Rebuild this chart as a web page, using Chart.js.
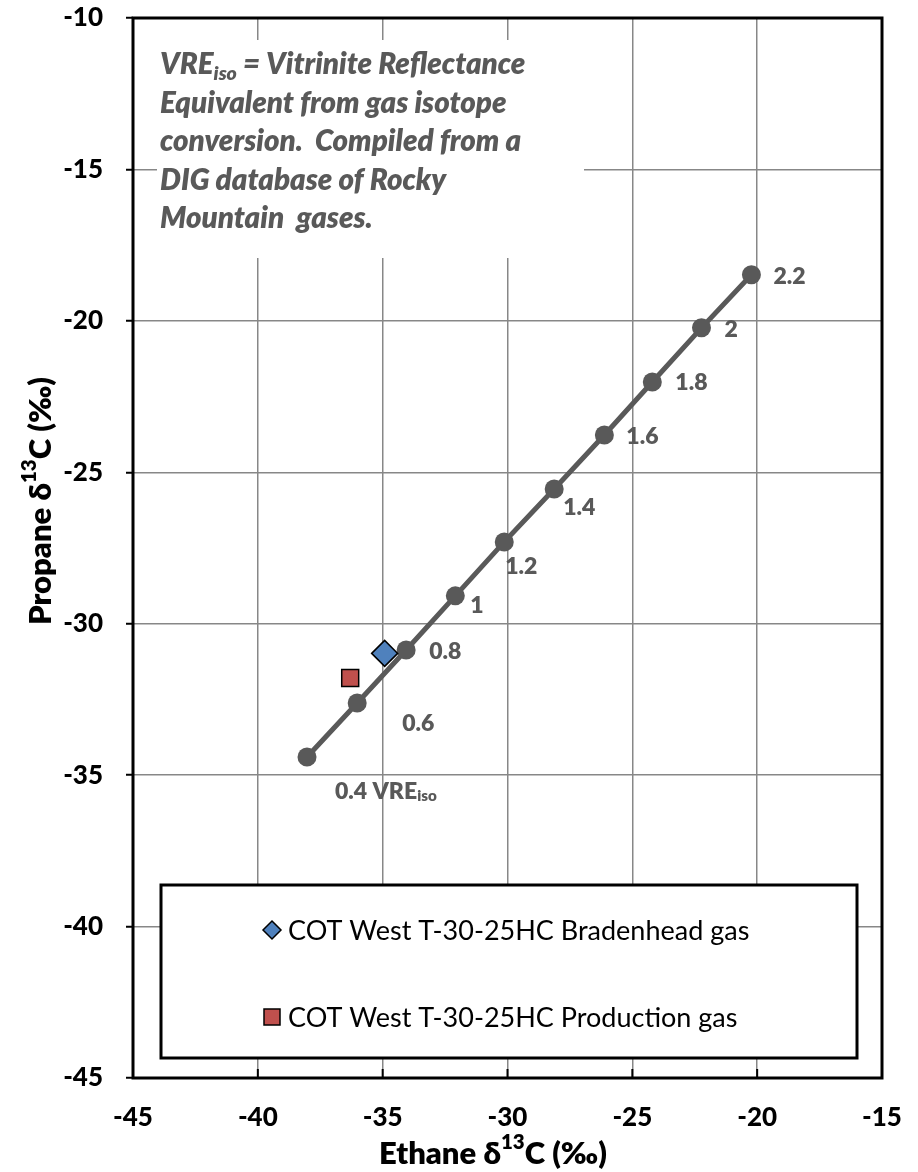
<!DOCTYPE html>
<html>
<head>
<meta charset="utf-8">
<script src="https://cdn.jsdelivr.net/npm/chart.js@4.4.1/dist/chart.umd.min.js"></script>
<style>
  html, body { margin: 0; padding: 0; background: #fff; }
</style>
</head>
<body>
<canvas id="chart" width="918" height="1172"></canvas>
<script>
// VRE_iso conversion line (ethane vs propane d13C)
const vreLabels = ["0.4", "0.6", "0.8", "1", "1.2", "1.4", "1.6", "1.8", "2", "2.2"]
const vreEthane = [-38.03, -36.02, -34.06, -32.09, -30.13, -28.13, -26.12, -24.2, -22.23, -20.23]
const vrePropane = [-34.4, -32.62, -30.87, -29.08, -27.3, -25.55, -23.77, -22.02, -20.23, -18.48]

// well samples
const bradenheadEthane = [-34.92]
const bradenheadPropane = [-30.98]
const productionEthane = [-36.3]
const productionPropane = [-31.79]

const seriesNames = [
  "COT West T-30-25HC Bradenhead gas",
  "COT West T-30-25HC Production gas",
]

const xTicks = [-45, -40, -35, -30, -25, -20, -15]
const yTicks = [-10, -15, -20, -25, -30, -35, -40, -45]

// label placement next to each VRE point (px offsets)
const labelOffsets = [
  [28, 35], [45, 21], [23, 2], [15, 10], [1, 25],
  [9, 19], [22, 2], [23, 1], [23, 2], [22, 2],
]

const FONT = "Lato, 'Open Sans', sans-serif"
const GRAY = "#595959"
const HEAVY = "800"

const toPoints = (xs, ys) => xs.map((x, i) => ({ x: x, y: ys[i] }))

const drawRich = (ctx, parts, x, y, size, style) => {
  let cx = x
  parts.forEach((p) => {
    const s = p.sub || p.sup ? size * 0.66 : size
    ctx.font = `${style} ${s}px ${FONT}`
    const dy = p.sub ? size * 0.2 : p.sup ? -size * 0.36 : 0
    ctx.fillText(p.t, cx, y + dy)
    cx += ctx.measureText(p.t).width
  })
  return cx - x
}

const richWidth = (ctx, parts, size, style) => {
  let w = 0
  parts.forEach((p) => {
    const s = p.sub || p.sup ? size * 0.66 : size
    ctx.font = `${style} ${s}px ${FONT}`
    w += ctx.measureText(p.t).width
  })
  return w
}

const noteLines = [
  [{ t: "VRE" }, { t: "iso", sub: true }, { t: " = Vitrinite Reflectance" }],
  [{ t: "Equivalent from gas isotope" }],
  [{ t: "conversion.  Compiled from a" }],
  [{ t: "DIG database of Rocky" }],
  [{ t: "Mountain  gases." }],
]

const xTitle = [{ t: "Ethane δ" }, { t: "13", sup: true }, { t: "C (‰)" }]
const yTitle = [{ t: "Propane δ" }, { t: "13", sup: true }, { t: "C (‰)" }]

const decorPlugin = {
  id: "decor",
  beforeDatasetsDraw(chart) {
    const { ctx } = chart
    // white panel under the note hides the grid
    ctx.save()
    ctx.fillStyle = "#fff"
    ctx.fillRect(157, 40, 427, 218)
    ctx.restore()
  },
  afterDatasetsDraw(chart) {
    const { ctx } = chart
    ctx.save()

    // note text
    ctx.fillStyle = GRAY
    ctx.textBaseline = "alphabetic"
    ctx.textAlign = "left"
    noteLines.forEach((line, i) => {
      drawRich(ctx, line, 160, 74 + i * 38.5, 29.5, "italic " + HEAVY)
    })

    // VRE labels
    const meta = chart.getDatasetMeta(0)
    ctx.textBaseline = "middle"
    meta.data.forEach((pt, i) => {
      const [dx, dy] = labelOffsets[i]
      const parts = i === 0
        ? [{ t: vreLabels[i] + " VRE" }, { t: "iso", sub: true }]
        : [{ t: vreLabels[i] }]
      drawRich(ctx, parts, pt.x + dx, pt.y + dy, 23, HEAVY)
    })

    // legend box
    const lx = 161, ly = 885, lw = 696, lh = 173
    ctx.fillStyle = "#fff"
    ctx.fillRect(lx, ly, lw, lh)
    ctx.strokeStyle = "#000"
    ctx.lineWidth = 3
    ctx.strokeRect(lx, ly, lw, lh)

    const rows = [930, 1017]
    // diamond
    ctx.lineWidth = 1.5
    ctx.beginPath()
    ctx.moveTo(272, rows[0] - 9)
    ctx.lineTo(281, rows[0])
    ctx.lineTo(272, rows[0] + 9)
    ctx.lineTo(263, rows[0])
    ctx.closePath()
    ctx.fillStyle = "#4F81BD"
    ctx.fill()
    ctx.stroke()
    // square
    ctx.fillStyle = "#C0504D"
    ctx.fillRect(264, rows[1] - 8, 16, 16)
    ctx.strokeRect(264, rows[1] - 8, 16, 16)

    ctx.fillStyle = "#000"
    ctx.font = `27px ${FONT}`
    ctx.textBaseline = "middle"
    seriesNames.forEach((name, i) => {
      ctx.fillText(name, 288, rows[i] + 1)
    })
    ctx.restore()
  },
  afterDraw(chart) {
    const { ctx, chartArea, scales } = chart
    ctx.save()
    // inward ticks on x axis
    ctx.strokeStyle = "#000"
    ctx.lineWidth = 2
    xTicks.forEach((v) => {
      const px = scales.x.getPixelForValue(v)
      ctx.beginPath()
      ctx.moveTo(px, chartArea.bottom)
      ctx.lineTo(px, chartArea.bottom - 9)
      ctx.stroke()
    })
    // plot frame
    ctx.lineWidth = 3
    ctx.strokeRect(chartArea.left, chartArea.top,
      chartArea.right - chartArea.left, chartArea.bottom - chartArea.top)

    // axis titles
    ctx.fillStyle = "#000"
    ctx.textBaseline = "middle"
    const size = 31
    let w = richWidth(ctx, xTitle, size, HEAVY)
    drawRich(ctx, xTitle, 493 - w / 2, 1154, size, HEAVY)

    w = richWidth(ctx, yTitle, size, HEAVY)
    ctx.translate(41, 501)
    ctx.rotate(-Math.PI / 2)
    drawRich(ctx, yTitle, -w / 2, 0, size, HEAVY)
    ctx.restore()
  },
}

const ctx = document.getElementById("chart").getContext("2d")

new Chart(ctx, {
  type: "scatter",
  data: {
    datasets: [
      {
        label: "VRE iso",
        data: toPoints(vreEthane, vrePropane),
        showLine: true,
        borderColor: GRAY,
        borderWidth: 5,
        pointRadius: 9.5,
        pointBackgroundColor: GRAY,
        pointBorderWidth: 0,
        order: 3,
      },
      {
        label: seriesNames[0],
        data: toPoints(bradenheadEthane, bradenheadPropane),
        pointStyle: "rectRot",
        pointRadius: 13,
        backgroundColor: "#4F81BD",
        borderColor: "#000",
        borderWidth: 1.5,
        order: 1,
      },
      {
        label: seriesNames[1],
        data: toPoints(productionEthane, productionPropane),
        pointStyle: "rect",
        pointRadius: 12,
        backgroundColor: "#C0504D",
        borderColor: "#000",
        borderWidth: 1.5,
        order: 2,
      },
    ],
  },
  options: {
    responsive: false,
    animation: false,
    layout: {
      padding: { left: 0, top: 18, right: 36, bottom: 0 },
    },
    plugins: {
      legend: { display: false },
      tooltip: { enabled: false },
    },
    scales: {
      x: {
        type: "linear",
        min: -45,
        max: -15,
        afterBuildTicks: (scale) => {
          scale.ticks = xTicks.map((v) => ({ value: v }))
        },
        afterFit: (scale) => {
          scale.height = 94
          scale.paddingLeft = 0
          scale.paddingRight = 0
        },
        grid: {
          color: "#878787",
          lineWidth: 1.5,
          drawTicks: false,
        },
        border: { display: false },
        ticks: {
          color: "#000",
          padding: 24,
          maxRotation: 0,
          autoSkip: false,
          font: { family: FONT, size: 26, weight: "900" },
        },
      },
      y: {
        type: "linear",
        min: -45,
        max: -10,
        afterBuildTicks: (scale) => {
          scale.ticks = yTicks.map((v) => ({ value: v }))
        },
        afterFit: (scale) => {
          scale.width = 133
          scale.paddingTop = 0
          scale.paddingBottom = 0
        },
        grid: {
          color: "#878787",
          lineWidth: 1.5,
          tickLength: 7,
          tickColor: "#000",
          tickWidth: 2,
        },
        border: { display: false },
        ticks: {
          color: "#000",
          padding: 23,
          autoSkip: false,
          font: { family: FONT, size: 26, weight: "900" },
        },
      },
    },
  },
  plugins: [decorPlugin],
})
</script>
</body>
</html>
